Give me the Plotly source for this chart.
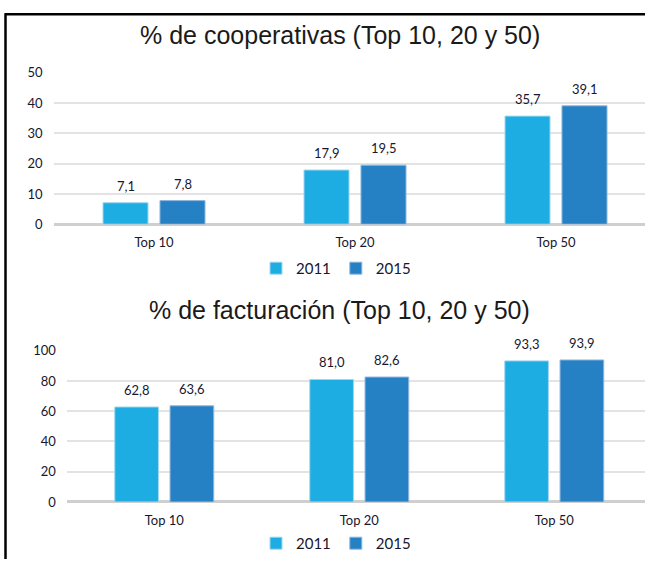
import plotly.graph_objects as go

categories = ["Top 10", "Top 20", "Top 50"]
years = ["2011", "2015"]
coop_2011 = [7.1, 17.9, 35.7]
coop_2015 = [7.8, 19.5, 39.1]
fact_2011 = [62.8, 81.0, 93.3]
fact_2015 = [63.6, 82.6, 93.9]
title_top = "% de cooperativas (Top 10, 20 y 50)"
title_bottom = "% de facturación (Top 10, 20 y 50)"
coop_ticks = [0, 10, 20, 30, 40, 50]
fact_ticks = [0, 20, 40, 60, 80, 100]

W, H = 645, 567
colors = {"2011": "#1EADE3", "2015": "#2680C4"}
edge = {"2011": "#9fd6ef", "2015": "#8db7df"}
text_color = "#17172e"
sans = "Lato, Open Sans, sans-serif"
label_font = dict(family=sans, size=13, color=text_color)


def py(px):
    return 1 - px / H


fig = go.Figure()

panels = [
    dict(vals=[coop_2011, coop_2015], xa="x", ya="y", legend="legend", slot_px=57.0),
    dict(vals=[fact_2011, fact_2015], xa="x2", ya="y2", legend="legend2", slot_px=55.5),
]

annotations = []
for p in panels:
    for yr, vals in zip(years, p["vals"]):
        fig.add_trace(go.Bar(
            x=categories, y=vals, name=yr, xaxis=p["xa"], yaxis=p["ya"],
            legend=p["legend"],
            marker=dict(color=colors[yr], line=dict(color=edge[yr], width=1)),
            hoverinfo="skip",
        ))
    for k, (yr, vals) in enumerate(zip(years, p["vals"])):
        shift = (k - 0.5) * p["slot_px"]
        for c, v in zip(categories, vals):
            annotations.append(dict(
                x=c, y=v, xref=p["xa"], yref=p["ya"], xshift=shift, yshift=7,
                text=f"{v:.1f}".replace(".", ","), showarrow=False,
                yanchor="bottom", font=label_font,
            ))

title_font = dict(family="Liberation Sans, Arial", size=25, color="#1a1a1a")
annotations.append(dict(text=title_top, x=340 / W, y=py(28), xref="paper", yref="paper",
                        showarrow=False, xanchor="center", yanchor="middle", font=title_font))
annotations.append(dict(text=title_bottom, x=339 / W, y=py(311), xref="paper", yref="paper",
                        showarrow=False, xanchor="center", yanchor="middle", font=title_font))

tick_font = dict(family=sans, size=13, color=text_color)
common_y = dict(showgrid=True, gridcolor="#e3e3e3", gridwidth=1.5, zeroline=True,
                zerolinecolor="#cfcfcf", zerolinewidth=2.5, showline=False,
                tickfont=tick_font, ticklabelstandoff=10, fixedrange=True)
common_x = dict(showline=False, showgrid=False, tickfont=tick_font,
                ticklabelstandoff=9, fixedrange=True, type="category")

x0_top = 53.5
x0_bot = 66.75
legend_font = dict(family=sans, size=15, color=text_color)
fig.update_layout(
    width=W, height=H,
    margin=dict(l=0, r=0, t=0, b=0),
    paper_bgcolor="white", plot_bgcolor="white",
    barmode="group", bargap=0.433, bargroupgap=0.21,
    separators=",.",
    showlegend=True,
    xaxis=dict(domain=[x0_top / W, 1], anchor="y",
               range=[-0.5, -0.5 + (W - x0_top) / 201.0], **common_x),
    yaxis=dict(domain=[py(222.5), py(66.7)], anchor="x", range=[0, 50],
               tickvals=coop_ticks, **common_y),
    xaxis2=dict(domain=[x0_bot / W, 1], anchor="y2",
                range=[-0.5, -0.5 + (W - x0_bot) / 195.0], **common_x),
    yaxis2=dict(domain=[py(508.3), py(352.7)], anchor="x2", range=[0, 100],
                tickvals=fact_ticks, **common_y),
    legend=dict(orientation="h", x=336 / W, y=py(268), xanchor="center", yanchor="middle",
                font=legend_font, itemwidth=30, tracegroupgap=0, bgcolor="rgba(0,0,0,0)"),
    legend2=dict(orientation="h", x=336 / W, y=py(551), xanchor="center", yanchor="middle",
                 font=legend_font, itemwidth=30, tracegroupgap=0, bgcolor="rgba(0,0,0,0)"),
    annotations=annotations,
    shapes=[
        dict(type="line", xref="paper", yref="paper", x0=5 / W, x1=1, y0=py(6.5), y1=py(6.5),
             line=dict(color="black", width=2.5)),
        dict(type="line", xref="paper", yref="paper", x0=5.5 / W, x1=5.5 / W, y0=0, y1=py(5.5),
             line=dict(color="black", width=2.5)),
    ],
)

fig.write_html(
    "out.html",
    config={"displayModeBar": False},
    post_script="document.body.style.margin='0';document.body.style.padding='0';"
                "document.body.style.overflow='hidden';"
                "document.documentElement.style.overflow='hidden';",
)
